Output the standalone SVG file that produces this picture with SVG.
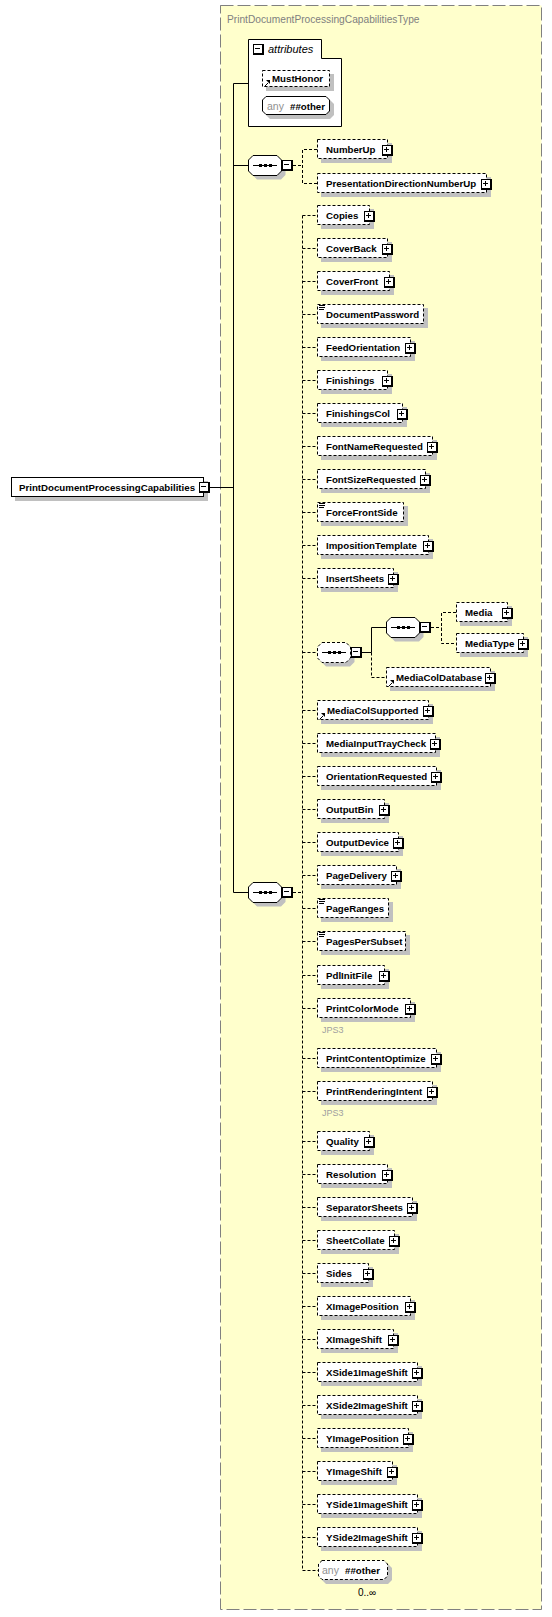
<svg xmlns="http://www.w3.org/2000/svg" xmlns:xlink="http://www.w3.org/1999/xlink" width="552" height="1617" viewBox="0 0 552 1617">
<style>
.t{font-family:"Liberation Sans",Arial,sans-serif;font-size:9.7px;font-weight:bold;fill:#000}
.g{font-family:"Liberation Sans",Arial,sans-serif;font-size:10.5px;fill:#909090}
.j{font-family:"Liberation Sans",Arial,sans-serif;font-size:9px;fill:#a0a0a0}
.n{font-family:"Liberation Sans",Arial,sans-serif;font-size:10px;fill:#000}
.box{fill:#fff;stroke:#000;stroke-width:1}
.opt{stroke-dasharray:3,2}
.sh{fill:#c0c0c0;stroke:none}
.ln{fill:none;stroke:#000;stroke-width:1}
.dl{fill:none;stroke:#000;stroke-width:1;stroke-dasharray:3,2}
</style>
<defs>
<g id="plus"><rect width="11" height="11" fill="#000"/><rect x="1" y="1" width="8" height="8" fill="#fff"/><rect x="2" y="4" width="5" height="1" fill="#000"/><rect x="4" y="2" width="1" height="5" fill="#000"/></g>
<g id="minus"><rect width="11" height="11" fill="#000"/><rect x="1" y="1" width="8" height="8" fill="#fff"/><rect x="2" y="4" width="5" height="1" fill="#000"/></g>
<g id="lines" fill="#000"><rect x="0" y="0" width="6" height="1"/><rect x="0" y="2" width="6" height="1"/><rect x="0" y="4" width="5" height="1"/></g>
<g id="ref"><path d="M0.5,7.5 L4,4" stroke="#000" fill="none"/><path d="M2,1 H6 V5 Z" fill="#000"/></g>
<path id="oct" d="M5,0.5 H29 L33.5,5 V16 L29,20.5 H5 L0.5,16 V5 Z"/>
<g id="seqin" fill="#000"><path d="M5,10.5 H29" stroke="#000" stroke-dasharray="none" fill="none"/><rect x="11" y="9" width="3" height="3"/><rect x="16" y="9" width="3" height="3"/><rect x="21" y="9" width="3" height="3"/></g>
</defs>

<g id="type-box">
<rect x="220.5" y="5.5" width="321" height="1604" fill="#ffffcc" stroke="#808080" stroke-dasharray="13,4"/>
<text x="227" y="23" style="font-family:'Liberation Sans',Arial,sans-serif;font-size:10.2px;fill:#808080">PrintDocumentProcessingCapabilitiesType</text>
</g>

<g id="connectors">
<path class="ln" d="M210,487.5 H233.5 M248,83.5 H233.5 V892.5 H248 M233.5,165.5 H248"/>
<path class="dl" d="M293,165.5 H302.5 M317,149.5 H302.5 V183.5 H317"/>
<path class="dl" d="M293,892.5 H302.5 M302.5,215.5 V1570.5"/>
<path class="dl" d="M302.5,215.5 H317 M302.5,248.5 H317 M302.5,281.5 H317 M302.5,314.5 H317 M302.5,347.5 H317 M302.5,380.5 H317 M302.5,413.5 H317 M302.5,446.5 H317 M302.5,479.5 H317 M302.5,512.5 H317 M302.5,545.5 H317 M302.5,578.5 H317 M302.5,652.5 H317 M302.5,710.5 H317 M302.5,743.5 H317 M302.5,776.5 H317 M302.5,809.5 H317 M302.5,842.5 H317 M302.5,875.5 H317 M302.5,908.5 H317 M302.5,941.5 H317 M302.5,975.5 H317 M302.5,1008.5 H317 M302.5,1058.5 H317 M302.5,1091.5 H317 M302.5,1141.5 H317 M302.5,1174.5 H317 M302.5,1207.5 H317 M302.5,1240.5 H317 M302.5,1273.5 H317 M302.5,1306.5 H317 M302.5,1339.5 H317 M302.5,1372.5 H317 M302.5,1405.5 H317 M302.5,1438.5 H317 M302.5,1471.5 H317 M302.5,1504.5 H317 M302.5,1537.5 H317 M302.5,1570.5 H318"/>
<path class="ln" d="M362,652.5 H371.5 V627.5 H386"/>
<path class="dl" d="M371.5,652.5 V677.5 H386"/>
<path class="dl" d="M431,627.5 H441.5 M456,612.5 H441.5 V643.5 H456"/>
</g>

<g id="root">
<rect class="sh" x="15" y="481" width="193" height="20"/>
<rect class="box" x="11.5" y="477.5" width="192" height="19"/>
<text class="t" x="19" y="491">PrintDocumentProcessingCapabilities</text>
<use href="#minus" x="199" y="482"/>
</g>

<g id="attributes">
<path class="box" d="M248.5,39.5 H321.5 V58.5 H341.5 V126.5 H248.5 Z"/>
<use href="#minus" x="253" y="44"/>
<text x="268" y="53" style="font-family:'Liberation Sans',Arial,sans-serif;font-size:11px;font-style:italic;fill:#000">attributes</text>
</g>
<g id="attr-MustHonor">
<rect class="sh" x="266" y="74" width="68" height="17"/>
<rect class="box opt" x="262.5" y="70.5" width="67" height="16"/>
<use href="#ref" x="264" y="79"/>
<text class="t" x="272" y="82">MustHonor</text>
</g>
<g id="attr-any">
<path class="sh" d="M270,100 H330 L334,104 V115 L330,119 H270 L266,115 V104 Z"/>
<path class="box" d="M266,96.5 H326 L329.5,100 V111 L326,114.5 H266 L262.5,111 V100 Z"/>
<text class="g" x="267" y="110">any</text>
<text class="t" x="290" y="110">##other</text>
</g>

<g id="seq1">
<use href="#oct" x="252" y="159" class="sh"/>
<use href="#oct" x="248" y="155" class="box"/>
<use href="#seqin" x="248" y="155"/>
<use href="#minus" x="282" y="160"/>
</g>
<g id="seq2">
<use href="#oct" x="252" y="886" class="sh"/>
<use href="#oct" x="248" y="882" class="box"/>
<use href="#seqin" x="248" y="882"/>
<use href="#minus" x="282" y="887"/>
</g>
<g id="seq-media-outer">
<use href="#oct" x="321" y="646" class="sh"/>
<use href="#oct" x="317" y="642" class="box opt"/>
<use href="#seqin" x="317" y="642"/>
<use href="#minus" x="351" y="647"/>
</g>
<g id="seq-media-inner">
<use href="#oct" x="390" y="621" class="sh"/>
<use href="#oct" x="386" y="617" class="box"/>
<use href="#seqin" x="386" y="617"/>
<use href="#minus" x="420" y="622"/>
</g>

<g id="NumberUp"><rect class="sh" x="321" y="143" width="71" height="20"/><rect class="box opt" x="317.5" y="139.5" width="70" height="19"/><text class="t" x="326" y="153">NumberUp</text><use href="#plus" x="382" y="145"/></g>
<g id="PresentationDirectionNumberUp"><rect class="sh" x="321" y="177" width="170" height="20"/><rect class="box opt" x="317.5" y="173.5" width="169" height="19"/><text class="t" x="326" y="187">PresentationDirectionNumberUp</text><use href="#plus" x="481" y="179"/></g>
<g id="Copies"><rect class="sh" x="321" y="209" width="53" height="20"/><rect class="box opt" x="317.5" y="205.5" width="52" height="19"/><text class="t" x="326" y="219">Copies</text><use href="#plus" x="364" y="211"/></g>
<g id="CoverBack"><rect class="sh" x="321" y="242" width="71" height="20"/><rect class="box opt" x="317.5" y="238.5" width="70" height="19"/><text class="t" x="326" y="252">CoverBack</text><use href="#plus" x="382" y="244"/></g>
<g id="CoverFront"><rect class="sh" x="321" y="275" width="73" height="20"/><rect class="box opt" x="317.5" y="271.5" width="72" height="19"/><text class="t" x="326" y="285">CoverFront</text><use href="#plus" x="384" y="277"/></g>
<g id="DocumentPassword"><rect class="sh" x="321" y="308" width="107" height="20"/><rect class="box opt" x="317.5" y="304.5" width="106" height="19"/><use href="#lines" x="319" y="305"/><text class="t" x="326" y="318">DocumentPassword</text></g>
<g id="FeedOrientation"><rect class="sh" x="321" y="341" width="94" height="20"/><rect class="box opt" x="317.5" y="337.5" width="93" height="19"/><text class="t" x="326" y="351">FeedOrientation</text><use href="#plus" x="405" y="343"/></g>
<g id="Finishings"><rect class="sh" x="321" y="374" width="71" height="20"/><rect class="box opt" x="317.5" y="370.5" width="70" height="19"/><text class="t" x="326" y="384">Finishings</text><use href="#plus" x="382" y="376"/></g>
<g id="FinishingsCol"><rect class="sh" x="321" y="407" width="86" height="20"/><rect class="box opt" x="317.5" y="403.5" width="85" height="19"/><text class="t" x="326" y="417">FinishingsCol</text><use href="#plus" x="397" y="409"/></g>
<g id="FontNameRequested"><rect class="sh" x="321" y="440" width="116" height="20"/><rect class="box opt" x="317.5" y="436.5" width="115" height="19"/><text class="t" x="326" y="450">FontNameRequested</text><use href="#plus" x="427" y="442"/></g>
<g id="FontSizeRequested"><rect class="sh" x="321" y="473" width="109" height="20"/><rect class="box opt" x="317.5" y="469.5" width="108" height="19"/><text class="t" x="326" y="483">FontSizeRequested</text><use href="#plus" x="420" y="475"/></g>
<g id="ForceFrontSide"><rect class="sh" x="321" y="506" width="87" height="20"/><rect class="box opt" x="317.5" y="502.5" width="86" height="19"/><use href="#lines" x="319" y="503"/><text class="t" x="326" y="516">ForceFrontSide</text></g>
<g id="ImpositionTemplate"><rect class="sh" x="321" y="539" width="112" height="20"/><rect class="box opt" x="317.5" y="535.5" width="111" height="19"/><text class="t" x="326" y="549">ImpositionTemplate</text><use href="#plus" x="423" y="541"/></g>
<g id="InsertSheets"><rect class="sh" x="321" y="572" width="77" height="20"/><rect class="box opt" x="317.5" y="568.5" width="76" height="19"/><text class="t" x="326" y="582">InsertSheets</text><use href="#plus" x="388" y="574"/></g>
<g id="Media"><rect class="sh" x="460" y="606" width="52" height="20"/><rect class="box opt" x="456.5" y="602.5" width="51" height="19"/><text class="t" x="465" y="616">Media</text><use href="#plus" x="502" y="608"/></g>
<g id="MediaType"><rect class="sh" x="460" y="637" width="68" height="20"/><rect class="box opt" x="456.5" y="633.5" width="67" height="19"/><text class="t" x="465" y="647">MediaType</text><use href="#plus" x="518" y="639"/></g>
<g id="MediaColDatabase"><rect class="sh" x="390" y="671" width="105" height="20"/><rect class="box opt" x="386.5" y="667.5" width="104" height="19"/><use href="#ref" x="388" y="679"/><text class="t" x="396" y="681">MediaColDatabase</text><use href="#plus" x="485" y="673"/></g>
<g id="MediaColSupported"><rect class="sh" x="321" y="704" width="112" height="20"/><rect class="box opt" x="317.5" y="700.5" width="111" height="19"/><use href="#ref" x="319" y="712"/><text class="t" x="327" y="714">MediaColSupported</text><use href="#plus" x="423" y="706"/></g>
<g id="MediaInputTrayCheck"><rect class="sh" x="321" y="737" width="119" height="20"/><rect class="box opt" x="317.5" y="733.5" width="118" height="19"/><text class="t" x="326" y="747">MediaInputTrayCheck</text><use href="#plus" x="430" y="739"/></g>
<g id="OrientationRequested"><rect class="sh" x="321" y="770" width="120" height="20"/><rect class="box opt" x="317.5" y="766.5" width="119" height="19"/><text class="t" x="326" y="780">OrientationRequested</text><use href="#plus" x="431" y="772"/></g>
<g id="OutputBin"><rect class="sh" x="321" y="803" width="68" height="20"/><rect class="box opt" x="317.5" y="799.5" width="67" height="19"/><text class="t" x="326" y="813">OutputBin</text><use href="#plus" x="379" y="805"/></g>
<g id="OutputDevice"><rect class="sh" x="321" y="836" width="82" height="20"/><rect class="box opt" x="317.5" y="832.5" width="81" height="19"/><text class="t" x="326" y="846">OutputDevice</text><use href="#plus" x="393" y="838"/></g>
<g id="PageDelivery"><rect class="sh" x="321" y="869" width="80" height="20"/><rect class="box opt" x="317.5" y="865.5" width="79" height="19"/><text class="t" x="326" y="879">PageDelivery</text><use href="#plus" x="391" y="871"/></g>
<g id="PageRanges"><rect class="sh" x="321" y="902" width="72" height="20"/><rect class="box opt" x="317.5" y="898.5" width="71" height="19"/><use href="#lines" x="319" y="899"/><text class="t" x="326" y="912">PageRanges</text></g>
<g id="PagesPerSubset"><rect class="sh" x="321" y="935" width="89" height="20"/><rect class="box opt" x="317.5" y="931.5" width="88" height="19"/><use href="#lines" x="319" y="932"/><text class="t" x="326" y="945">PagesPerSubset</text></g>
<g id="PdlInitFile"><rect class="sh" x="321" y="969" width="68" height="20"/><rect class="box opt" x="317.5" y="965.5" width="67" height="19"/><text class="t" x="326" y="979">PdlInitFile</text><use href="#plus" x="379" y="971"/></g>
<g id="PrintColorMode"><rect class="sh" x="321" y="1002" width="94" height="20"/><rect class="box opt" x="317.5" y="998.5" width="93" height="19"/><text class="t" x="326" y="1012">PrintColorMode</text><use href="#plus" x="405" y="1004"/><text class="j" x="322" y="1033">JPS3</text></g>
<g id="PrintContentOptimize"><rect class="sh" x="321" y="1052" width="120" height="20"/><rect class="box opt" x="317.5" y="1048.5" width="119" height="19"/><text class="t" x="326" y="1062">PrintContentOptimize</text><use href="#plus" x="431" y="1054"/></g>
<g id="PrintRenderingIntent"><rect class="sh" x="321" y="1085" width="116" height="20"/><rect class="box opt" x="317.5" y="1081.5" width="115" height="19"/><text class="t" x="326" y="1095">PrintRenderingIntent</text><use href="#plus" x="427" y="1087"/><text class="j" x="322" y="1116">JPS3</text></g>
<g id="Quality"><rect class="sh" x="321" y="1135" width="53" height="20"/><rect class="box opt" x="317.5" y="1131.5" width="52" height="19"/><text class="t" x="326" y="1145">Quality</text><use href="#plus" x="364" y="1137"/></g>
<g id="Resolution"><rect class="sh" x="321" y="1168" width="71" height="20"/><rect class="box opt" x="317.5" y="1164.5" width="70" height="19"/><text class="t" x="326" y="1178">Resolution</text><use href="#plus" x="382" y="1170"/></g>
<g id="SeparatorSheets"><rect class="sh" x="321" y="1201" width="96" height="20"/><rect class="box opt" x="317.5" y="1197.5" width="95" height="19"/><text class="t" x="326" y="1211">SeparatorSheets</text><use href="#plus" x="407" y="1203"/></g>
<g id="SheetCollate"><rect class="sh" x="321" y="1234" width="78" height="20"/><rect class="box opt" x="317.5" y="1230.5" width="77" height="19"/><text class="t" x="326" y="1244">SheetCollate</text><use href="#plus" x="389" y="1236"/></g>
<g id="Sides"><rect class="sh" x="321" y="1267" width="52" height="20"/><rect class="box opt" x="317.5" y="1263.5" width="51" height="19"/><text class="t" x="326" y="1277">Sides</text><use href="#plus" x="363" y="1269"/></g>
<g id="XImagePosition"><rect class="sh" x="321" y="1300" width="94" height="20"/><rect class="box opt" x="317.5" y="1296.5" width="93" height="19"/><text class="t" x="326" y="1310">XImagePosition</text><use href="#plus" x="405" y="1302"/></g>
<g id="XImageShift"><rect class="sh" x="321" y="1333" width="77" height="20"/><rect class="box opt" x="317.5" y="1329.5" width="76" height="19"/><text class="t" x="326" y="1343">XImageShift</text><use href="#plus" x="388" y="1335"/></g>
<g id="XSide1ImageShift"><rect class="sh" x="321" y="1366" width="101" height="20"/><rect class="box opt" x="317.5" y="1362.5" width="100" height="19"/><text class="t" x="326" y="1376">XSide1ImageShift</text><use href="#plus" x="412" y="1368"/></g>
<g id="XSide2ImageShift"><rect class="sh" x="321" y="1399" width="101" height="20"/><rect class="box opt" x="317.5" y="1395.5" width="100" height="19"/><text class="t" x="326" y="1409">XSide2ImageShift</text><use href="#plus" x="412" y="1401"/></g>
<g id="YImagePosition"><rect class="sh" x="321" y="1432" width="92" height="20"/><rect class="box opt" x="317.5" y="1428.5" width="91" height="19"/><text class="t" x="326" y="1442">YImagePosition</text><use href="#plus" x="403" y="1434"/></g>
<g id="YImageShift"><rect class="sh" x="321" y="1465" width="76" height="20"/><rect class="box opt" x="317.5" y="1461.5" width="75" height="19"/><text class="t" x="326" y="1475">YImageShift</text><use href="#plus" x="387" y="1467"/></g>
<g id="YSide1ImageShift"><rect class="sh" x="321" y="1498" width="101" height="20"/><rect class="box opt" x="317.5" y="1494.5" width="100" height="19"/><text class="t" x="326" y="1508">YSide1ImageShift</text><use href="#plus" x="412" y="1500"/></g>
<g id="YSide2ImageShift"><rect class="sh" x="321" y="1531" width="101" height="20"/><rect class="box opt" x="317.5" y="1527.5" width="100" height="19"/><text class="t" x="326" y="1541">YSide2ImageShift</text><use href="#plus" x="412" y="1533"/></g>
<g id="any-other">
<path class="sh" d="M326,1564 H388 L392,1568 V1580 L388,1584 H326 L322,1580 V1568 Z"/>
<path class="box opt" d="M322,1560.5 H384 L387.5,1564 V1576 L384,1579.5 H322 L318.5,1576 V1564 Z"/>
<text class="g" x="322" y="1574">any</text>
<text class="t" x="345" y="1574">##other</text>
<text class="n" x="358" y="1596">0..∞</text>
</g>
</svg>
